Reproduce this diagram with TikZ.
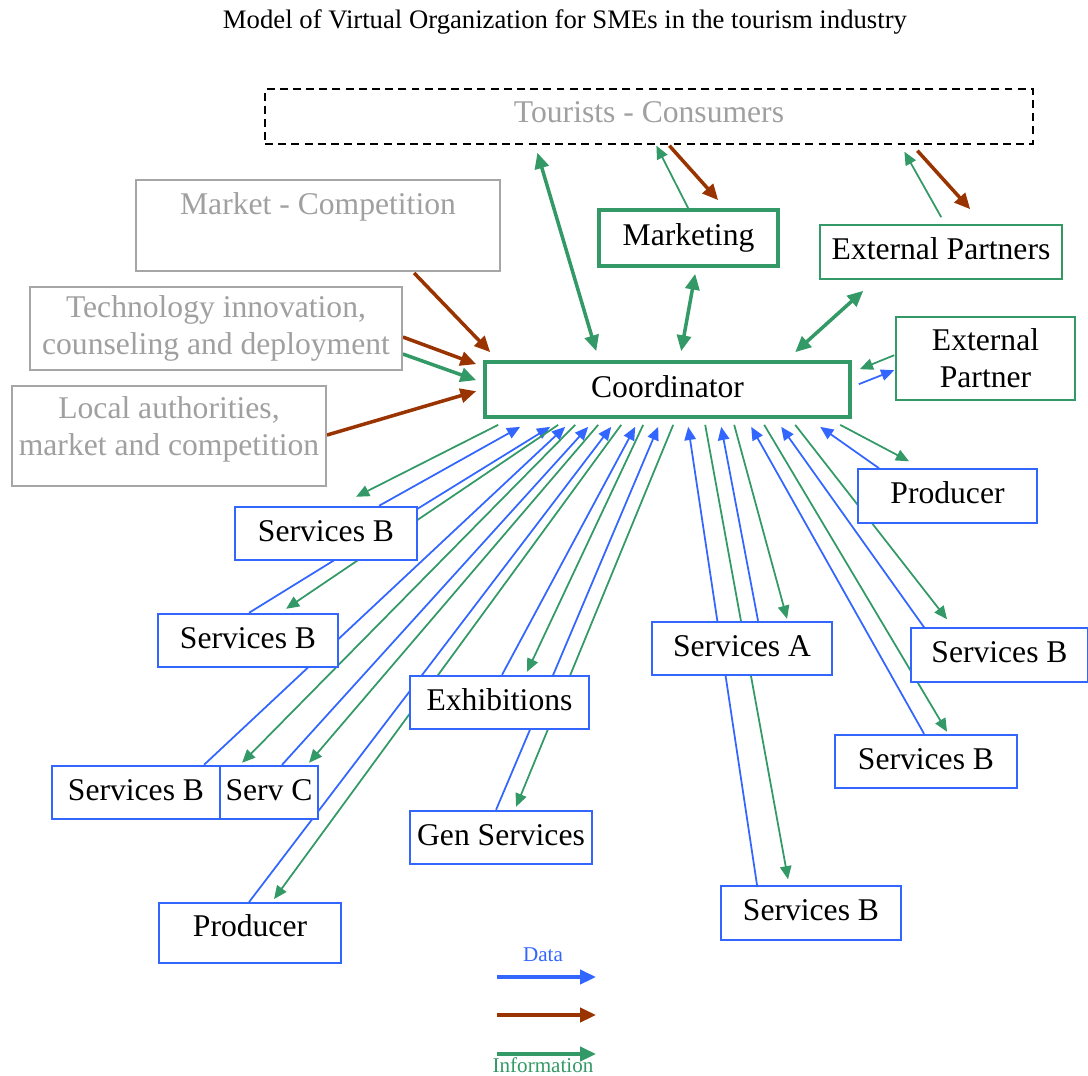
\documentclass[tikz,border=0pt]{standalone}
\usepackage{fontspec}
\setmainfont{Liberation Serif}
\usetikzlibrary{arrows.meta,calc,backgrounds}
\definecolor{dataBlue}{HTML}{3366FF}
\definecolor{infoGreen}{HTML}{339966}
\definecolor{flowBrown}{HTML}{993300}
\definecolor{boxGray}{HTML}{A6A6A6}
\definecolor{textGray}{HTML}{A0A0A0}
\tikzset{
    basebox/.style={draw,fill=white,inner sep=2pt,align=center,
        font=\fontsize{18}{21}\selectfont},
    oneline/.style={text height=0.45cm,text depth=0.15cm},
    graybox/.style={basebox,draw=boxGray,line width=1.1pt,text=textGray},
    bluebox/.style={basebox,oneline,draw=dataBlue,line width=1.1pt,minimum height=1.07cm},
    greenbox/.style={basebox,draw=infoGreen,line width=0.9pt},
    keybox/.style={basebox,oneline,draw=infoGreen,line width=2.1pt},
    dataline/.style={draw=dataBlue,line width=1pt,-{Triangle[length=7.5pt,width=6.5pt]}},
    infoline/.style={draw=infoGreen,line width=1pt,-{Triangle[length=7.5pt,width=6.5pt]}},
    flowline/.style={draw=flowBrown,line width=2pt,-{Triangle[length=9pt,width=8pt]}},
    infothick/.style={draw=infoGreen,line width=2pt,-{Triangle[length=9pt,width=8pt]}},
    infoboth/.style={infothick,{Triangle[length=9pt,width=8pt]}-{Triangle[length=9pt,width=8pt]}},
    keyline/.style={line width=2pt,-{Triangle[length=9pt,width=8pt]}},
    keytext/.style={font=\fontsize{12}{14}\selectfont}
}

\begin{document}
\begin{tikzpicture}[x=0.02cm,y=-0.02cm]
    \useasboundingbox (0,0) rectangle (1088,1075);
    \node[font=\fontsize{15.2}{18}\selectfont] (title) at (565,22)
        {Model of Virtual Organization for SMEs in the tourism industry};
    % outside world
    \node[basebox,draw=black,line width=0.8pt,dash pattern=on 4.5pt off 3pt,text=textGray,
        minimum width=15.36cm,inner ysep=0.1cm,text height=0.56cm,text depth=0.34cm]
        (tourists) at (649,116.5) {Tourists - Consumers};
    \node[graybox,minimum width=7.28cm,inner ysep=0.1cm,text height=0.58cm,text depth=1.04cm]
        (market) at (318,225.5) {Market - Competition};
    \node[graybox,minimum width=7.44cm,minimum height=1.66cm] (tech) at (216,328.5)
        {Technology innovation,\\counseling and deployment};
    \node[graybox,minimum width=6.28cm,inner ysep=0.1cm,text height=1.28cm,text depth=0.52cm]
        (local) at (169,436) {Local authorities,\\market and competition};
    % core
    \node[keybox,minimum width=3.58cm,minimum height=1.12cm] (marketing) at (688.5,238) {Marketing};
    \node[greenbox,oneline,minimum width=4.84cm,minimum height=1.08cm] (partners) at (941,252) {External Partners};
    \node[greenbox,minimum width=3.58cm,minimum height=1.66cm] (partner) at (985.5,358.5) {External\\Partner};
    \node[keybox,minimum width=7.3cm,minimum height=1.1cm] (coord) at (667.5,389.5) {Coordinator};
    % members
    \node[bluebox,minimum width=3.58cm] (prodR) at (947.5,496) {Producer};
    \node[bluebox,minimum width=3.64cm] (servB1) at (326,533.5) {Services B};
    \node[bluebox,minimum width=3.6cm] (servB2) at (248,640.5) {Services B};
    \node[bluebox,minimum width=3.6cm] (servA) at (742,648.5) {Services A};
    \node[bluebox,minimum width=3.54cm] (servB4) at (999.5,655) {Services B};
    \node[bluebox,minimum width=3.58cm] (exhib) at (499.5,702.5) {Exhibitions};
    \node[bluebox,minimum width=3.64cm] (servB5) at (926,761.5) {Services B};
    \node[bluebox,minimum width=3.36cm] (servB3) at (136,792.5) {Services B};
    \node[bluebox,minimum width=1.96cm] (servC) at (269,792.5) {Serv C};
    \node[bluebox,minimum width=3.64cm] (genServ) at (501,837.5) {Gen Services};
    \node[bluebox,minimum width=3.64cm,inner ysep=0.1cm,text height=0.56cm,text depth=0.44cm]
        (prodL) at (250,933) {Producer};
    \node[bluebox,minimum width=3.6cm] (servB6) at (811,913) {Services B};

    \begin{scope}[on background layer]
        % data up to the coordinator
        \foreach \src/\sx/\cx in {servB1/145/37,servB2/92/67,servB3/153/82,servC/63/105,
            prodL/91/128,exhib/93/152,genServ/87/175,servB6/37/205,servA/107/238,
            servB5/90/268,servB4/14/298,prodR/22/337}
            \draw[dataline] ($(\src.north west)+(\sx,0)$) -- ($(coord.south west)+(\cx,8)$);
        % information down to the members
        \foreach \dst/\ox/\oy/\cx in {servB1/122/-9/15,servB2/129/-4/75,servC/23/-2/92,
            servC/90/-2/115,prodL/116/-3/138,exhib/118/-3/160,genServ/107/-3/190,
            servB6/68/-6/222,servA/136/-2/251,servB5/113/-2/281,servB4/37/-8/312,prodR/52/-7/357}
            \draw[infoline] ($(coord.south west)+(\cx,6)$) -- ($(\dst.north west)+(\ox,\oy)$);
        % top
        \draw[infoboth] ($(coord.north west)+(113,-9)$) -- ($(tourists.south west)+(273,8)$);
        \draw[infoline] ($(marketing.north west)+(91,0)$) -- ($(tourists.south west)+(392,1)$);
        \draw[flowline] ($(tourists.south west)+(405,1)$) -- ($(marketing.north west)+(121,-8)$);
        \draw[infoboth] ($(marketing.south west)+(98,6)$) -- ($(coord.north west)+(198,-9)$);
        \draw[infoline] ($(partners.north west)+(122,-7)$) -- ($(tourists.south west)+(640,7)$);
        \draw[flowline] ($(tourists.south west)+(653,6)$) -- ($(partners.north west)+(151,-15)$);
        \draw[infoboth] ($(partners.south west)+(44,11)$) -- ($(coord.north west)+(312,-8)$);
        \draw[infoline] ($(partner.north west)+(-1,39)$) -- ($(coord.north east)+(8,9)$);
        \draw[dataline] ($(coord.north east)+(7,24)$) -- ($(partner.north west)+(-1,54)$);
        % left
        \draw[flowline] ($(market.south west)+(279,1)$) -- ($(coord.north west)+(7,-8)$);
        \draw[flowline] ($(tech.north east)+(0,51)$) -- ($(coord.north west)+(-7,4)$);
        \draw[infothick] ($(tech.north east)+(0,68)$) -- ($(coord.north west)+(-7,20)$);
        \draw[flowline] ($(local.north east)+(0,50)$) -- ($(coord.north west)+(-7,31)$);
    \end{scope}

    % legend
    \node[keytext,text=dataBlue] (keyData) at (543,955) {Data};
    \node[keytext,text=infoGreen] (keyInfo) at (543,1065) {Information};
    \foreach \col/\yy [count=\i] in {dataBlue/977,flowBrown/1015,infoGreen/1054} {
        \coordinate (keyA\i) at (497,\yy);
        \coordinate (keyB\i) at (596,\yy);
        \draw[keyline,draw=\col,fill=\col] (keyA\i) -- (keyB\i);
    }
\end{tikzpicture}
\end{document}
